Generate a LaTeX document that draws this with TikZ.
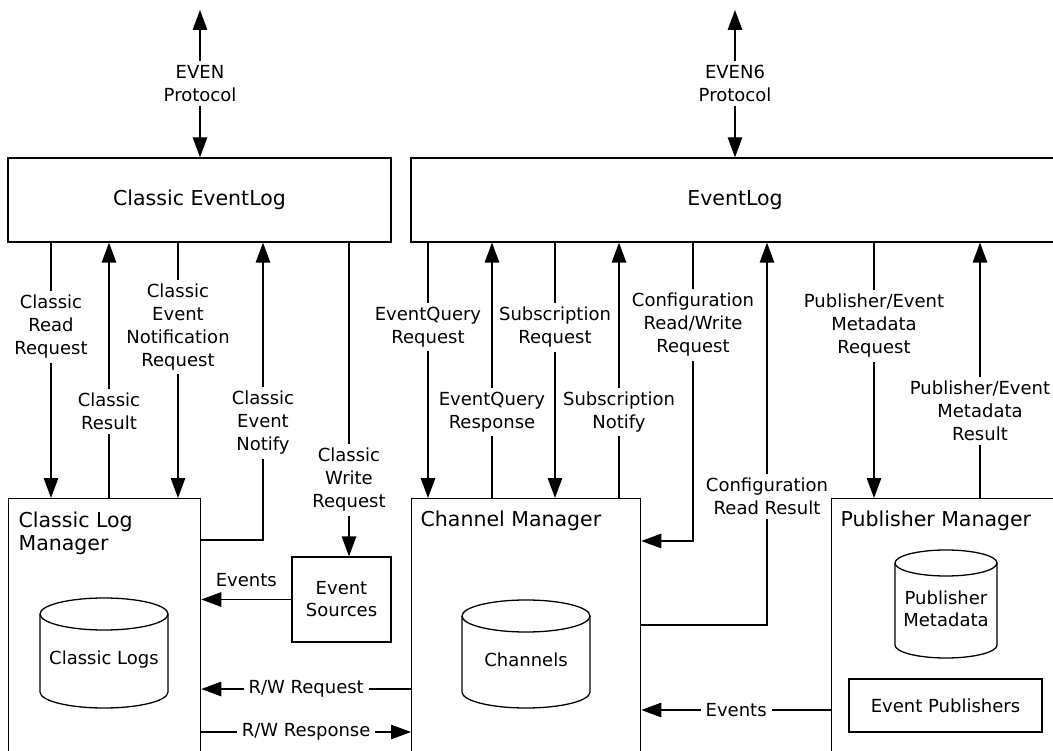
\documentclass[tikz,border=0pt]{standalone}
\usepackage{fontspec}
\setmainfont{DejaVu Sans}
\usetikzlibrary{arrows.meta}
\newcommand{\dbcyl}[5]{%
  \draw (#1,#3+#5) -- (#1,#4-#5) arc[start angle=180,end angle=0,x radius={(#2-#1)/2},y radius=#5] -- (#2,#3+#5);
  \draw ({(#1+#2)/2},#3+#5) ellipse[x radius={(#2-#1)/2},y radius=#5];
}
\begin{document}
\begin{tikzpicture}[x=1pt,y=-1pt,
  line width=1.3pt,
  arr/.style={-{Triangle[length=20pt,width=14.5pt]}},
  darr/.style={{Triangle[length=20pt,width=14.5pt]}-{Triangle[length=20pt,width=14.5pt]}},
  box/.style={draw, rectangle, inner sep=0pt, font=\fontsize{20.5}{24}\selectfont},
  sbox/.style={draw, rectangle, inner sep=0pt, align=center, font=\fontsize{18}{22}\selectfont},
  lab/.style={fill=white, inner xsep=1pt, inner ysep=4pt, align=center, font=\fontsize{18}{23}\selectfont},
  hlab/.style={fill=white, inner xsep=5pt, inner ysep=2pt, align=center, font=\fontsize{18}{23}\selectfont},
  txt/.style={inner sep=0pt, align=center, font=\fontsize{18}{22}\selectfont},
  ttl/.style={inner sep=0pt, align=left, anchor=north west, font=\fontsize{20.5}{23}\selectfont},
]
\useasboundingbox (0,0) rectangle (1053,751);
\clip (0,0) rectangle (1053,751);

% main boxes
\node[box, minimum width=383, minimum height=84] (cel) at (199.5,200) {Classic EventLog};
\node[box, minimum width=660, minimum height=84] (el) at (741,200) {};
\node[inner sep=0pt, font=\fontsize{20.5}{24}\selectfont] (eltxt) at (735,200) {EventLog};

\node[box, anchor=north west, minimum width=192, minimum height=300] (clm) at (8,498) {};
\node[ttl] (clmt) at (18,511) {Classic Log\\Manager};
\node[box, anchor=north west, minimum width=229, minimum height=300] (cm) at (411,498) {};
\node[ttl] (cmt) at (420,510) {Channel Manager};
\node[box, anchor=north west, minimum width=260, minimum height=300] (pm) at (831,498) {};
\node[ttl] (pmt) at (840,510) {Publisher Manager};

\node[sbox, minimum width=99, minimum height=85] (es) at (341.5,599.5) {Event\\Sources};
\node[sbox, minimum width=193, minimum height=53] (ep) at (945.5,705.5) {Event Publishers};

% cylinders
\dbcyl{40}{168}{598}{708}{16}
\node[txt] (cl) at (104,660) {Classic Logs};
\dbcyl{462}{590}{600}{708}{16}
\node[txt] (ch) at (526,660) {Channels};
\dbcyl{895}{997}{550}{658}{13}
\node[txt] (pmd) at (946,609) {Publisher\\Metadata};

% protocol arrows
\coordinate (evtop) at (200,10);
\draw[darr] (evtop) -- node[lab, midway] {EVEN\\Protocol} (evtop |- cel.north);
\coordinate (ev6top) at (735,10);
\draw[darr] (ev6top) -- node[lab, midway] {EVEN6\\Protocol} (ev6top |- el.north);

% classic side
\coordinate (a1) at (51,0);
\coordinate (a2) at (109,0);
\coordinate (a3) at (178,0);
\coordinate (a4) at (263,540);
\coordinate (a5) at (349,0);
\draw[arr] (cel.south -| a1) -- node[lab, pos=0.33] {Classic\\Read\\Request} (clm.north -| a1);
\draw[arr] (clm.north -| a2) -- node[lab, pos=0.338] {Classic\\Result} (cel.south -| a2);
\draw[arr] (cel.south -| a3) -- node[lab, pos=0.33] {Classic\\Event\\Notification\\Request} (clm.north -| a3);
\draw[arr] (clm.east |- a4) -- (a4) -- node[lab, pos=0.394] {Classic\\Event\\Notify} (cel.south -| a4);
\draw[arr] (cel.south -| a5) -- node[lab, pos=0.756] {Classic\\Write\\Request} (es.north -| a5);
\draw[arr] (es.west) -- node[txt, midway, above=12pt] {Events} (es.west -| clm.east);

\coordinate (rw1) at (0,689);
\coordinate (rw2) at (0,732);
\draw[arr] (cm.west |- rw1) -- node[hlab, pos=0.5] {R/W Request} (clm.east |- rw1);
\draw[arr] (clm.east |- rw2) -- node[hlab, pos=0.5] {R/W Response} (cm.west |- rw2);

% new eventlog side
\coordinate (b1) at (428,0);
\coordinate (b2) at (492,0);
\coordinate (b3) at (555,0);
\coordinate (b4) at (619,0);
\coordinate (b5) at (693,541);
\coordinate (b6) at (767,625);
\coordinate (b7) at (874,0);
\coordinate (b8) at (980,0);
\draw[arr] (el.south -| b1) -- node[lab, pos=0.332] {EventQuery\\Request} (cm.north -| b1);
\draw[arr] (cm.north -| b2) -- node[lab, pos=0.336] {EventQuery\\Response} (el.south -| b2);
\draw[arr] (el.south -| b3) -- node[lab, pos=0.332] {Subscription\\Request} (cm.north -| b3);
\draw[arr] (cm.north -| b4) -- node[lab, pos=0.336] {Subscription\\Notify} (el.south -| b4);
\draw[arr] (el.south -| b5) -- node[lab, pos=0.276] {Configuration\\Read/Write\\Request} (b5) -- (cm.east |- b5);
\draw[arr] (cm.east |- b6) -- (b6) -- node[lab, pos=0.337] {Configuration\\Read Result} (el.south -| b6);
\draw[arr] (el.south -| b7) -- node[lab, pos=0.326] {Publisher/Event\\Metadata\\Request} (pm.north -| b7);
\draw[arr] (pm.north -| b8) -- node[lab, pos=0.342] {Publisher/Event\\Metadata\\Result} (el.south -| b8);

\coordinate (ev2) at (0,710);
\draw[arr] (pm.west |- ev2) -- node[hlab, midway] {Events} (cm.east |- ev2);
\end{tikzpicture}
\end{document}
